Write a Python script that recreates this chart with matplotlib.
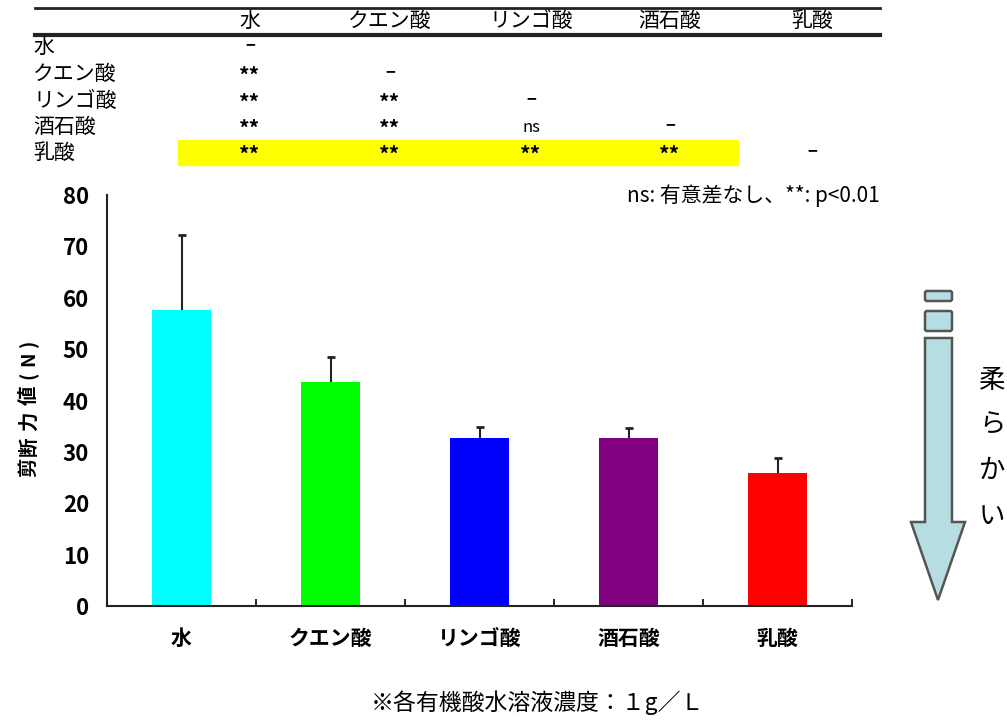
import matplotlib
matplotlib.use('Agg')
import matplotlib.pyplot as plt
import matplotlib.patches as mpatches
import numpy as np

plt.rcParams['font.family'] = ['Noto Sans CJK JP', 'DejaVu Sans']

# shear force of meat after soaking in each solution
labels = ['水', 'クエン酸', 'リンゴ酸', '酒石酸', '乳酸']
means = [57.7, 43.6, 32.7, 32.7, 25.9]
errs = [14.6, 4.8, 2.2, 2.0, 2.9]
colors = ['#00FFFF', '#00FF00', '#0000FF', '#800080', '#FF0000']

# pairwise significance (lower triangle)
sig_table = [
    ['-'],
    ['**', '-'],
    ['**', '**', '-'],
    ['**', '**', 'ns', '-'],
    ['**', '**', '**', '**', '-'],
]

W, H = 1007, 720
fig = plt.figure(figsize=(W / 100, H / 100), dpi=100)

ax = fig.add_axes([107 / W, 1 - 606 / H, (852 - 107) / W, (606 - 195) / H])
x = np.arange(len(labels))
ax.bar(x, means, width=0.4, color=colors, zorder=2)
eb = ax.errorbar(x, means, yerr=[np.zeros(len(errs)), errs], fmt='none',
                 ecolor='#222222', elinewidth=1.5, capsize=3, capthick=2, zorder=3)
# only the upper caps
eb[1][0].set_visible(False)

ax.set_xlim(-0.5, len(labels) - 0.5)
ax.set_ylim(0, 80)
ax.set_yticks(range(0, 81, 10))
ax.set_xticks(x)
ax.set_xticklabels(labels, fontweight='bold', fontsize=15)
ax.set_xticks(np.arange(0.5, len(labels), 1.0), minor=True)
ax.tick_params(axis='x', which='major', length=0, pad=16)
ax.tick_params(axis='x', which='minor', direction='in', length=5, width=1.2)
ax.tick_params(axis='y', length=0, pad=13, labelsize=16)
for t in ax.get_yticklabels():
    t.set_fontweight('bold')
for s in ['top', 'right']:
    ax.spines[s].set_visible(False)
for s in ['left', 'bottom']:
    ax.spines[s].set_linewidth(1.5)
    ax.spines[s].set_color('#222222')

# overlay in pixel coordinates for the table, arrow and notes
ov = fig.add_axes([0, 0, 1, 1])
ov.set_xlim(0, W)
ov.set_ylim(H, 0)
ov.axis('off')

# significance table
col_x = [250, 390, 531, 670, 812]
row_y = [47, 74, 101, 127, 153]
ov.add_patch(mpatches.Rectangle((178, 140), 560, 25, color='#FFFF00', zorder=0))
ov.plot([35, 880], [8, 8], color='#222222', lw=2)
ov.plot([35, 880], [35, 35], color='#222222', lw=3)
for cx, name in zip(col_x, labels):
    ov.text(cx, 21, name, ha='center', va='center', fontsize=15)
for i, (ry, name) in enumerate(zip(row_y, labels)):
    ov.text(33, ry, name, ha='left', va='center', fontsize=15)
    for j, mark in enumerate(sig_table[i]):
        if mark == '-':
            ov.text(col_x[j], ry - 2, '−', ha='center', va='center',
                    fontsize=12, fontweight='bold')
        elif mark == 'ns':
            ov.text(col_x[j], ry, mark, ha='center', va='center', fontsize=12)
        else:
            ov.text(col_x[j], ry + 2, mark, ha='center', va='center',
                    fontsize=15, fontweight='bold')

ov.text(880, 196, 'ns: 有意差なし、**: p<0.01', ha='right', va='center', fontsize=15)

# y axis title, spread out like the original lettering
for ch, cy in zip('剪断力値(N)', [467, 446, 421, 395, 375, 359, 343]):
    ov.text(29, cy, ch, rotation=90, ha='center', va='center',
            fontsize=14, fontweight='bold')

# downward arrow meaning "softer"
face, edge = '#B6DDE2', '#555555'
arrow = [(925, 338), (952, 338), (952, 522), (965, 522), (938, 600),
         (911, 522), (925, 522)]
ov.add_patch(mpatches.Polygon(arrow, closed=True, facecolor=face,
                              edgecolor=edge, lw=1.8))
for y0, y1 in [(291, 301), (311, 331)]:
    ov.add_patch(mpatches.FancyBboxPatch((925, y0), 27, y1 - y0,
                                         boxstyle='round,pad=0,rounding_size=2',
                                         facecolor=face, edgecolor=edge, lw=1.8))
for ch, cy in zip('柔らかい', [380, 425, 470, 517]):
    ov.text(992, cy, ch, ha='center', va='center', fontsize=19)

ov.text(537, 703, '※各有機酸水溶液濃度：１g／Ｌ', ha='center', va='center', fontsize=16.5)

plt.savefig('out.png', dpi=100)
